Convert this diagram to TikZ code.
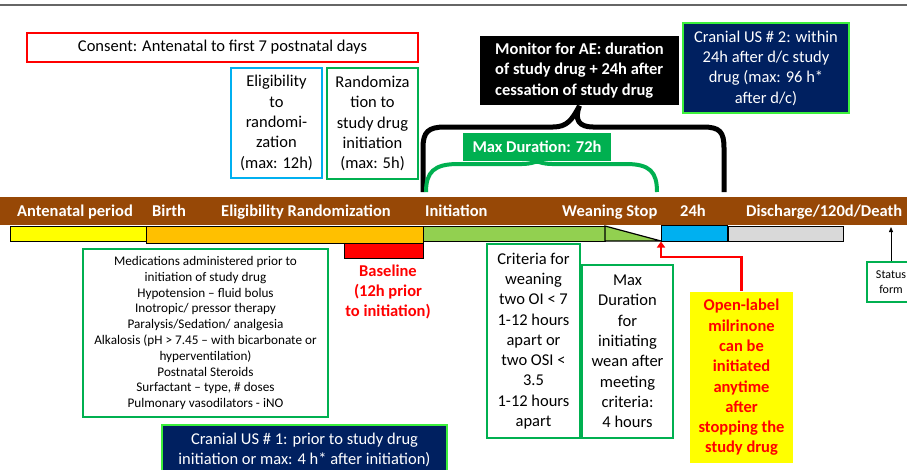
\documentclass[tikz,border=0pt]{standalone}
\usepackage{fontspec}
\setmainfont{Carlito}
\usetikzlibrary{arrows.meta,calc}
\definecolor{brownbar}{RGB}{151,72,6}
\definecolor{ybar}{RGB}{255,255,0}
\definecolor{obar}{RGB}{255,192,0}
\definecolor{gbar}{RGB}{146,208,80}
\definecolor{bbar}{RGB}{0,176,240}
\definecolor{graybar}{RGB}{217,217,217}
\definecolor{dkgreen}{RGB}{0,176,80}
\definecolor{navy}{RGB}{0,32,96}
\definecolor{lime}{RGB}{60,240,60}
\definecolor{ltblue}{RGB}{0,176,240}
\newcommand\mainsz{\fontsize{16.5}{20.3}\selectfont}
\newcommand\smallsz{\fontsize{13.2}{15.8}\selectfont}
\newcommand\tinysz{\fontsize{12}{15}\selectfont}
\begin{document}
\begin{tikzpicture}[x=1pt,y=-1pt,
  textbox/.style={draw, line width=1.6pt, align=center, inner sep=0pt, font=\mainsz},
  barlabel/.style={anchor=base west, inner sep=0pt, text=white, font=\mainsz\bfseries},
  seg/.style={draw=black, line width=1.4pt, anchor=north west, inner sep=0pt}]
\fill[white] (0,0) rectangle (907,469);
\useasboundingbox (0,0) rectangle (907,469);
\draw[black!60, line width=1.8pt] (0,5) -- (907,5);

% top boxes
\node[textbox, draw=red, minimum width=391, minimum height=29] (consent) at (222.5,47.5) {Consent: Antenatal to first 7 postnatal days};
\node[textbox, draw=ltblue, minimum width=91, minimum height=110] (elig) at (276.5,123) {Eligibility\\to\\randomi-\\zation\\(max: 12h)};
\node[textbox, draw=dkgreen, minimum width=91, minimum height=111] (rand) at (372.5,123.5) {Randomiza\\tion to\\study drug\\initiation\\(max: 5h)};
\node[textbox, draw=none, fill=black, text=white, font=\mainsz\bfseries, align=left, minimum width=199, minimum height=69] (monitor) at (579.5,70.5) {Monitor for AE: duration\\of study drug + 24h after\\cessation of study drug};
\node[textbox, draw=lime, fill=navy, text=white, minimum width=166, minimum height=90] (cus2) at (766,68) {Cranial US \# 2: within\\24h after d/c study\\drug (max: 96 h*\\after d/c)};
\node[textbox, draw=none, fill=dkgreen, text=white, font=\mainsz\bfseries, minimum width=148, minimum height=28] (maxdur) at (537,147) {Max Duration: 72h};

% braces
\draw[black, line width=5pt] (423,192) -- (423,148) .. controls (423,132) and (428,127) .. (445,127) -- (553,127) .. controls (567,127) and (572,120) .. (monitor.south) .. controls (574,120) and (579,127) .. (593,127) -- (703,127) .. controls (720,127) and (724,132) .. (724,148) -- (724,192);
\draw[dkgreen, line width=4pt] (426,192) .. controls (426,172) and (434,164) .. (458,164) -- (522,164) .. controls (532,164) and (536,161) .. (maxdur.south) .. controls (538,161) and (542,164) .. (552,164) -- (626,164) .. controls (650,164) and (657,172) .. (657,192);

% timeline bar
\node[fill=brownbar, minimum width=907, minimum height=28, inner sep=0, anchor=north west] (bar) at (0,197) {};
\node[barlabel] (l1) at (17,216) {Antenatal period};
\node[barlabel] (l2) at (152,216) {Birth};
\node[barlabel] (l3) at (221,216) {Eligibility Randomization};
\node[barlabel] (l4) at (425,216) {Initiation};
\node[barlabel] (l5) at (562,216) {Weaning Stop};
\node[barlabel] (l6) at (680,216) {24h};
\node[barlabel] (l7) at (746,216) {Discharge/120d/Death};

% segments
\node[seg, fill=ybar, minimum width=136, minimum height=15] (sy) at (10,226) {};
\node[seg, fill=obar, minimum width=277, minimum height=16.5] (so) at (146,226) {};
\node[seg, fill=gbar, minimum width=182, minimum height=15] (sg) at (423,226) {};
\draw[fill=gbar, line width=1.2pt] (605,226) -- (661,241) -- (605,241) -- cycle;
\node[seg, fill=bbar, minimum width=66, minimum height=16] (sb) at (661,225) {};
\node[seg, fill=graybar, minimum width=115, minimum height=15] (sgr) at (728,226) {};
\node[seg, fill=red, minimum width=79, minimum height=15.5] (sred) at (344,242.5) {};

\node[align=center, inner sep=0, text=red, font=\mainsz\bfseries] (baseline) at (388,292) {Baseline\\(12h prior\\to initiation)};

% lower boxes
\node[textbox, draw=dkgreen, font=\smallsz, minimum width=245, minimum height=168] (meds) at (205.5,333) {Medications administered prior to\\initiation of study drug\\Hypotension -- fluid bolus\\Inotropic/ pressor therapy\\Paralysis/Sedation/ analgesia\\Alkalosis (pH > 7.45 -- with bicarbonate or\\hyperventilation)\\Postnatal Steroids\\Surfactant -- type, \# doses\\Pulmonary vasodilators - iNO};
\node[textbox, draw=lime, fill=navy, text=white, minimum width=285, minimum height=50] (cus1) at (304.5,450) {Cranial US \# 1: prior to study drug\\initiation or max: 4 h* after initiation)};
\node[textbox, draw=dkgreen, minimum width=93, minimum height=194] (crit) at (533.5,341) {Criteria for\\weaning\\two OI < 7\\1-12 hours\\apart or\\two OSI <\\3.5\\1-12 hours\\apart};
\node[textbox, draw=dkgreen, minimum width=91, minimum height=173] (wean) at (627.5,351.5) {Max\\Duration\\for\\initiating\\wean after\\meeting\\criteria:\\4 hours};
\node[textbox, draw=none, fill=ybar, text=red, font=\mainsz\bfseries, minimum width=103, minimum height=171] (ol) at (741.5,377.5) {Open-label\\milrinone\\can be\\initiated\\anytime\\after\\stopping the\\study drug};
\node[textbox, draw=dkgreen, line width=1.4pt, font=\tinysz, minimum width=48, minimum height=40] (status) at (891,282) {Status\\form};

% arrows
\coordinate (stoptip) at (661,241.5);
\coordinate (dtip) at (891,227);
\draw[red, line width=2.5pt, -{Triangle[length=6pt,width=8pt]}] (ol.north) -- ++(0,-34) -| (stoptip);
\draw[black, line width=0.8pt, -{Triangle[length=5pt,width=4pt]}] (status.north) -- (dtip);
\end{tikzpicture}
\end{document}
